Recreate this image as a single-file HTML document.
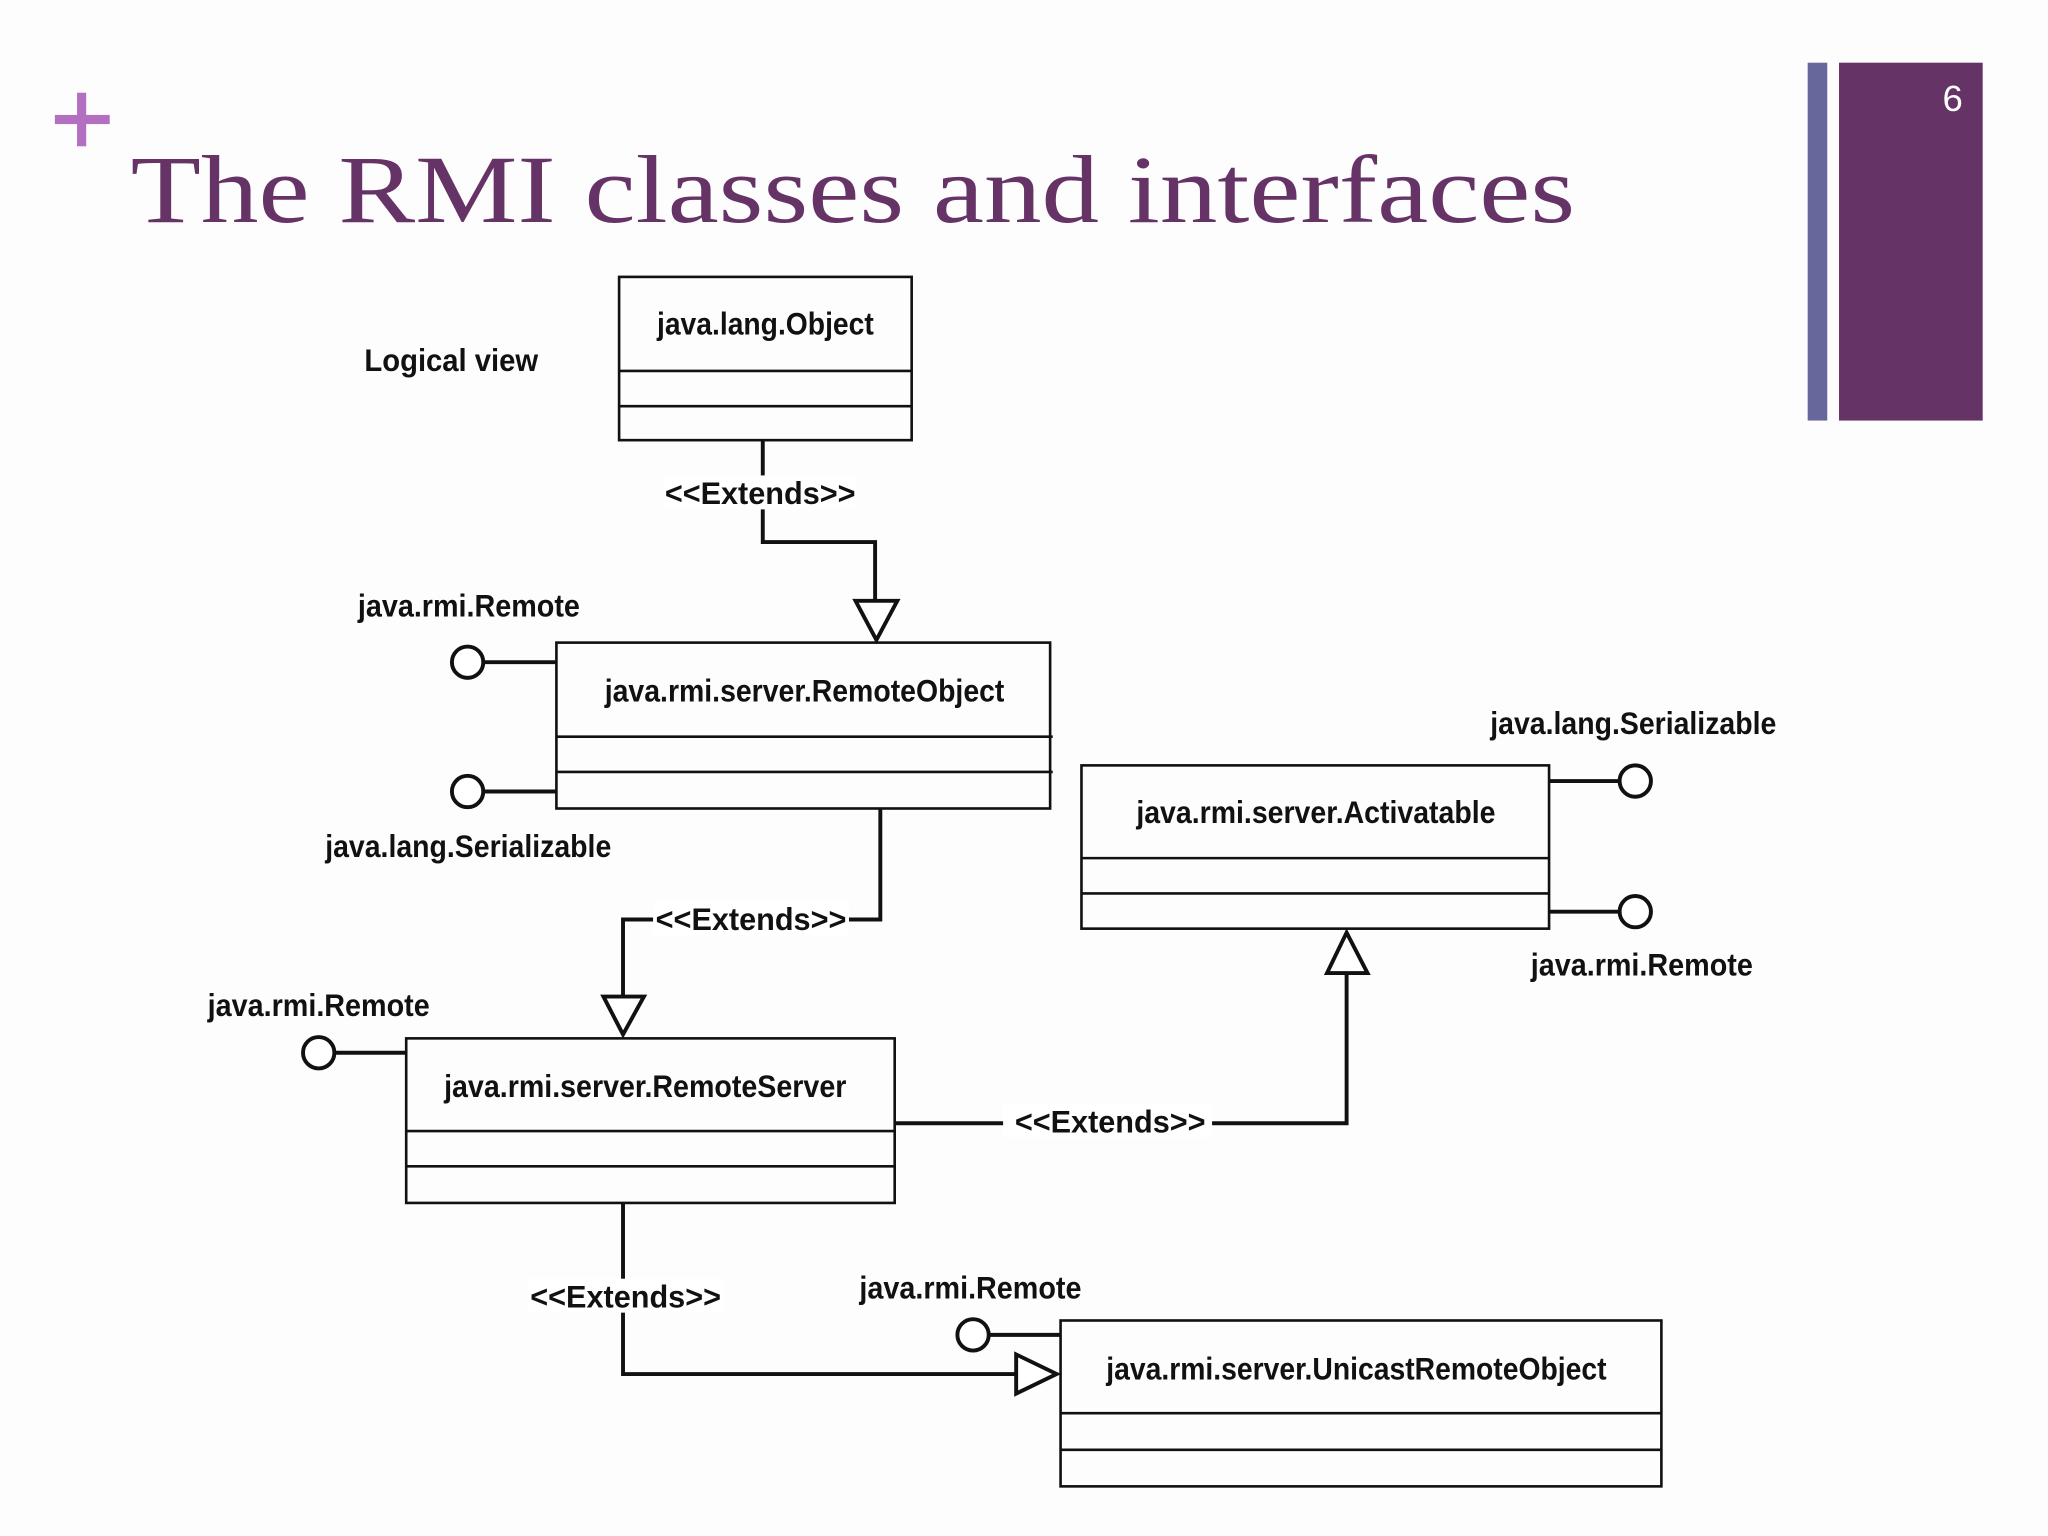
<!DOCTYPE html>
<html><head><meta charset="utf-8"><style>
html,body{margin:0;padding:0;background:#fff;}
svg{display:block;}
text{font-family:"Liberation Sans",sans-serif;}
</style></head><body>
<svg width="2048" height="1536" viewBox="0 0 1568 1176" preserveAspectRatio="none" xmlns="http://www.w3.org/2000/svg">
<rect width="1568" height="1176" fill="#fefdfe"/>
<rect x="1384" y="48" width="15" height="274" fill="#67679b"/>
<rect x="1408" y="48" width="110" height="274" fill="#663366"/>
<text x="1495" y="85" font-size="28" fill="#fff" text-anchor="middle">6</text>
<rect x="42" y="88" width="42" height="7" fill="#b36fc0"/>
<rect x="59" y="71" width="7" height="41" fill="#b36fc0"/>
<text x="100" y="170" font-size="74" fill="#663366" textLength="1106" lengthAdjust="spacingAndGlyphs" style="font-family:'Liberation Serif',serif">The RMI classes and interfaces</text>

<g fill="none" stroke="#111" stroke-width="2">
<rect x="474" y="212" width="224" height="125"/><line x1="474" y1="284" x2="698" y2="284"/><line x1="474" y1="311" x2="698" y2="311"/>
<rect x="426" y="492" width="378" height="127"/><line x1="426" y1="564" x2="806" y2="564"/><line x1="426" y1="591" x2="806" y2="591"/>
<rect x="828" y="586" width="358" height="125"/><line x1="828" y1="657" x2="1186" y2="657"/><line x1="828" y1="684" x2="1186" y2="684"/>
<rect x="311" y="795" width="374" height="126"/><line x1="311" y1="866" x2="685" y2="866"/><line x1="311" y1="893" x2="685" y2="893"/>
<rect x="812" y="1011" width="460" height="127"/><line x1="812" y1="1082" x2="1272" y2="1082"/><line x1="812" y1="1110" x2="1272" y2="1110"/>
</g>
<g fill="none" stroke="#111" stroke-width="3">
<polyline points="584,337 584,415 670,415 670,460"/>
<polygon points="655,460 687,460 671,490" fill="#fff"/>
<polyline points="674,619 674,704 477,704 477,763"/>
<polygon points="462,763 493,763 477,792" fill="#fff"/>
<polyline points="685,860 1031,860 1031,745"/>
<polygon points="1016,745 1047,745 1031,714" fill="#fff"/>
<polyline points="477,921 477,1052 778,1052"/>
<polygon points="778,1037 778,1067 809,1052" fill="#fff"/>
<line x1="371" y1="507" x2="426" y2="507"/><circle cx="358" cy="507" r="12" fill="#fff"/>
<line x1="371" y1="606" x2="426" y2="606"/><circle cx="358" cy="606" r="12" fill="#fff"/>
<line x1="1186" y1="598" x2="1240" y2="598"/><circle cx="1252" cy="598" r="12" fill="#fff"/>
<line x1="1186" y1="698" x2="1240" y2="698"/><circle cx="1252" cy="698" r="12" fill="#fff"/>
<line x1="257" y1="806" x2="311" y2="806"/><circle cx="244" cy="806" r="12" fill="#fff"/>
<line x1="758" y1="1022" x2="812" y2="1022"/><circle cx="745" cy="1022" r="12" fill="#fff"/>
</g>
<g fill="#fff">
<rect x="508" y="364" width="148" height="26"/>
<rect x="500" y="690" width="150" height="26"/>
<rect x="768" y="845" width="160" height="26"/>
<rect x="404" y="979" width="150" height="26"/>
</g>
<g font-size="24" fill="#111" font-weight="bold" lengthAdjust="spacingAndGlyphs">
<text x="279" y="284" textLength="133" lengthAdjust="spacingAndGlyphs">Logical view</text>
<text x="503" y="256" textLength="166" lengthAdjust="spacingAndGlyphs">java.lang.Object</text>
<text x="463" y="537" textLength="306" lengthAdjust="spacingAndGlyphs">java.rmi.server.RemoteObject</text>
<text x="870" y="630" textLength="275" lengthAdjust="spacingAndGlyphs">java.rmi.server.Activatable</text>
<text x="340" y="840" textLength="308" lengthAdjust="spacingAndGlyphs">java.rmi.server.RemoteServer</text>
<text x="847" y="1056" textLength="383" lengthAdjust="spacingAndGlyphs">java.rmi.server.UnicastRemoteObject</text>
<text x="509" y="386" textLength="146" lengthAdjust="spacingAndGlyphs">&lt;&lt;Extends&gt;&gt;</text>
<text x="502" y="712" textLength="146" lengthAdjust="spacingAndGlyphs">&lt;&lt;Extends&gt;&gt;</text>
<text x="777" y="867" textLength="146" lengthAdjust="spacingAndGlyphs">&lt;&lt;Extends&gt;&gt;</text>
<text x="406" y="1001" textLength="146" lengthAdjust="spacingAndGlyphs">&lt;&lt;Extends&gt;&gt;</text>
<text x="274" y="472" textLength="170" lengthAdjust="spacingAndGlyphs">java.rmi.Remote</text>
<text x="249" y="656" textLength="219" lengthAdjust="spacingAndGlyphs">java.lang.Serializable</text>
<text x="1141" y="562" textLength="219" lengthAdjust="spacingAndGlyphs">java.lang.Serializable</text>
<text x="1172" y="747" textLength="170" lengthAdjust="spacingAndGlyphs">java.rmi.Remote</text>
<text x="159" y="778" textLength="170" lengthAdjust="spacingAndGlyphs">java.rmi.Remote</text>
<text x="658" y="994" textLength="170" lengthAdjust="spacingAndGlyphs">java.rmi.Remote</text>
</g>
</svg>
</body></html>
